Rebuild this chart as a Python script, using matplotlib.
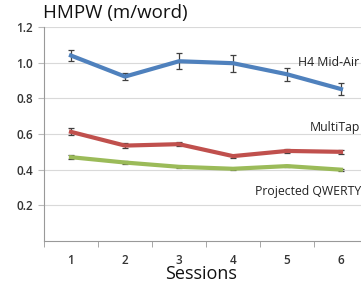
import matplotlib
matplotlib.use("Agg")
import matplotlib.pyplot as plt
import numpy as np

sessions = [1, 2, 3, 4, 5, 6]
h4_mid_air = [1.04, 0.922, 1.008, 0.997, 0.935, 0.852]
h4_err = [0.032, 0.018, 0.045, 0.047, 0.035, 0.032]
multitap = [0.612, 0.535, 0.543, 0.476, 0.505, 0.500]
multitap_err = [0.020, 0.015, 0.013, 0.008, 0.010, 0.010]
qwerty = [0.470, 0.440, 0.416, 0.405, 0.420, 0.400]
qwerty_err = [0.012, 0.008, 0.006, 0.006, 0.006, 0.005]
series_names = ["H4 Mid-Air", "MultiTap", "Projected QWERTY"]
yticks = [0.2, 0.4, 0.6, 0.8, 1.0, 1.2]

plt.rcParams['font.family'] = ['Open Sans', 'DejaVu Sans']

fig = plt.figure(figsize=(3.61, 2.89), dpi=100)
ax = fig.add_axes([44/361, 1-241/289, (368-44)/361, (241-27)/289])

colors = ["#4F81BD", "#C0504D", "#9BBB59"]
for vals, errs, c in zip([h4_mid_air, multitap, qwerty], [h4_err, multitap_err, qwerty_err], colors):
    ax.errorbar(sessions, vals, yerr=errs, color=c, lw=3, ecolor="#404040",
                elinewidth=0.9, capsize=2.5, capthick=0.9, zorder=3)

ax.set_xlim(0.5, 6.5)
ax.set_ylim(0, 1.2)
ax.set_yticks(yticks)
ax.set_yticklabels([f"{v:.1f}" for v in yticks])
ax.set_xticks(sessions)
ax.set_xticks(np.arange(0.5, 7.0, 1.0), minor=True)
ax.tick_params(axis='x', which='major', length=0, pad=9, labelsize=8.5, labelcolor="#333333")
ax.tick_params(axis='x', which='minor', length=4, color="#999999", direction='out')
ax.tick_params(axis='y', which='major', length=4, color="#bbbbbb", labelsize=8.5, labelcolor="#333333", pad=4)
for lab in ax.get_xticklabels() + ax.get_yticklabels():
    lab.set_fontweight('semibold')
ax.grid(axis='y', color="#d9d9d9", lw=0.8)
ax.set_axisbelow(True)
for s in ['top', 'right']:
    ax.spines[s].set_visible(False)
for s in ['left', 'bottom']:
    ax.spines[s].set_color("#999999")
    ax.spines[s].set_linewidth(0.8)

ax.text(5.2, 1.003, series_names[0], fontsize=8.8, color="#222222", va='center', ha='left')
ax.text(5.42, 0.637, series_names[1], fontsize=8.8, color="#222222", va='center', ha='left')
ax.text(4.4, 0.275, series_names[2], fontsize=8.8, color="#222222", va='center', ha='left')

fig.text(43/361, 1-13/289, "HMPW (m/word)", fontsize=13.5, color="#111111", va='center', ha='left')
fig.text(201/361, 1-274/289, "Sessions", fontsize=13, color="#111111", va='center', ha='center')

fig.savefig("out.png", dpi=100)
